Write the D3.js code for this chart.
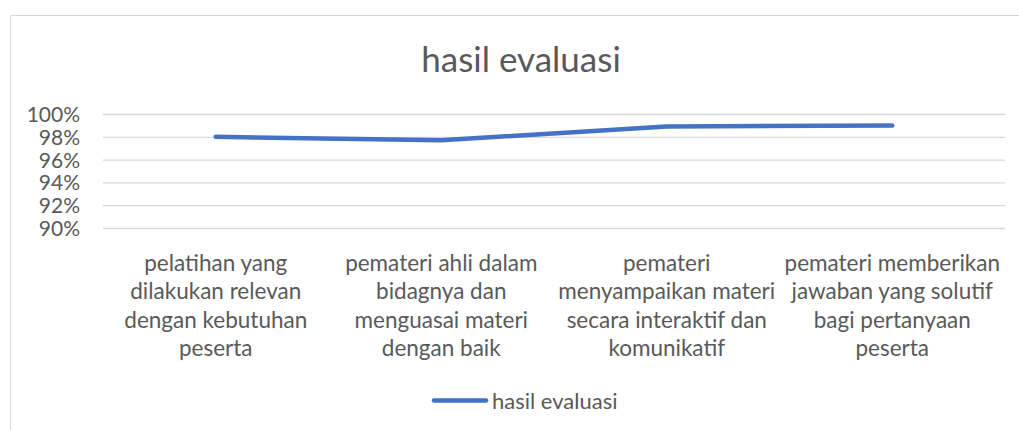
<!DOCTYPE html>
<html>
<head>
<meta charset="utf-8">
<script src="https://cdn.jsdelivr.net/npm/d3@7"></script>
<style>
  html, body { margin: 0; padding: 0; background: #fff; }
  svg { display: block; }
  text { font-family: Lato, "Open Sans", sans-serif; fill: #595959; }
</style>
</head>
<body>
<svg id="chart" width="1019" height="430"></svg>
<script>
const title = "hasil evaluasi";
const seriesName = "hasil evaluasi";
const categories = [
  "pelatihan yang\ndilakukan relevan\ndengan kebutuhan\npeserta",
  "pemateri ahli dalam\nbidagnya dan\nmenguasai materi\ndengan baik",
  "pemateri\nmenyampaikan materi\nsecara interaktif dan\nkomunikatif",
  "pemateri memberikan\njawaban yang solutif\nbagi pertanyaan\npeserta"
];
const values = [0.980, 0.977, 0.989, 0.990];
const yTicks = [0.90, 0.92, 0.94, 0.96, 0.98, 1.00];

const svg = d3.select("#chart");
const W = 1019, H = 430;
const plot = { left: 103, right: 1005, top: 114, bottom: 228 };

// chart area border
svg.append("rect")
  .attr("x", 10.5).attr("y", 15.5)
  .attr("width", W + 20).attr("height", H + 20)
  .attr("fill", "#fff").attr("stroke", "#d9d9d9").attr("stroke-width", 1);

svg.append("text")
  .attr("x", 521).attr("y", 71.5)
  .attr("text-anchor", "middle")
  .style("font-size", "35px")
  .text(title);

const x = d3.scaleBand().domain(categories).range([plot.left, plot.right]).padding(0);
const y = d3.scaleLinear().domain([0.90, 1.00]).range([plot.bottom, plot.top]);

// gridlines + y labels
const yAxis = d3.axisLeft(y).tickValues(yTicks).tickFormat(d3.format(".0%"))
  .tickSize(-(plot.right - plot.left)).tickPadding(23);
const gy = svg.append("g").attr("transform", `translate(${plot.left},0)`).call(yAxis);
gy.select(".domain").remove();
gy.selectAll(".tick line").attr("stroke", "#d9d9d9").attr("stroke-width", 1.3);
gy.selectAll(".tick text").style("font-size", "21px").attr("fill", "#595959").attr("dy", "0.36em");

// x axis labels
const xAxis = d3.axisBottom(x).tickSize(0).tickFormat(() => "");
const gx = svg.append("g").attr("transform", `translate(0,${plot.bottom})`).call(xAxis);
gx.select(".domain").remove();
gx.selectAll(".tick").each(function(d) {
  const lines = d.split("\n");
  const t = d3.select(this).append("text")
    .attr("text-anchor", "middle")
    .style("font-size", "22.5px")
    .attr("fill", "#595959");
  lines.forEach((ln, i) => {
    t.append("tspan").attr("x", 0).attr("y", 43 + i * 28.4).text(ln);
  });
});

// line
const line = d3.line()
  .x((d, i) => x(categories[i]) + x.bandwidth() / 2)
  .y(d => y(d));
svg.append("path")
  .datum(values)
  .attr("d", line)
  .attr("fill", "none")
  .attr("stroke", "#4472C4")
  .attr("stroke-width", 4.5)
  .attr("stroke-linecap", "round")
  .attr("stroke-linejoin", "round");

// legend
const lg = svg.append("g");
lg.append("line")
  .attr("x1", 434).attr("x2", 486).attr("y1", 400.5).attr("y2", 400.5)
  .attr("stroke", "#4472C4").attr("stroke-width", 4.5).attr("stroke-linecap", "round");
lg.append("text")
  .attr("x", 492).attr("y", 401).attr("dy", "0.36em")
  .style("font-size", "22px")
  .text(seriesName);
</script>
</body>
</html>
